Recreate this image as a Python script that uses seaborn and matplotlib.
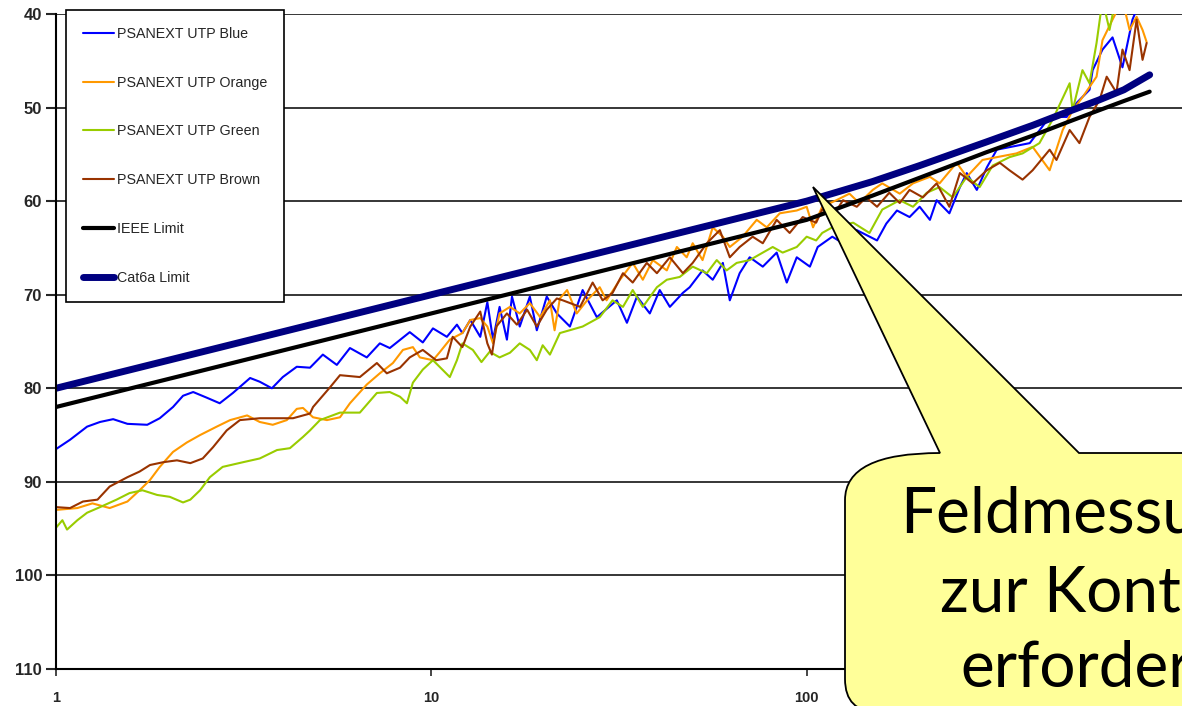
import matplotlib
matplotlib.use("Agg")
import matplotlib.pyplot as plt
from matplotlib.path import Path
from matplotlib.patches import PathPatch
from matplotlib.ticker import NullLocator
import pandas as pd
import seaborn as sns

# (frequency MHz, dB)
blue = [(1.0, 86.5), (1.09, 85.5), (1.21, 84.1), (1.31, 83.6), (1.42, 83.3), (1.55, 83.8),
        (1.75, 83.9), (1.89, 83.2), (2.05, 82.0), (2.18, 80.8), (2.32, 80.4), (2.52, 81.0),
        (2.73, 81.6), (2.96, 80.5), (3.29, 78.9), (3.49, 79.3), (3.76, 80.0), (4.02, 78.8),
        (4.38, 77.7), (4.75, 77.8), (5.14, 76.4), (5.60, 77.5), (6.07, 75.7), (6.73, 76.7),
        (7.29, 75.2), (7.75, 75.7), (8.76, 74.0), (9.49, 75.1), (10.1, 73.6), (11.0, 74.5),
        (11.7, 73.2), (12.1, 74.1), (12.7, 72.7), (13.5, 74.5), (14.1, 70.8), (14.6, 74.8),
        (15.2, 71.3), (15.9, 74.8), (16.4, 70.2), (17.2, 73.4), (18.3, 70.2), (19.1, 73.8),
        (20.3, 70.2), (21.6, 72.0), (23.4, 73.4), (25.3, 69.5), (27.6, 72.4), (31.2, 70.6),
        (33.2, 73.0), (35.3, 70.2), (38.2, 72.0), (40.6, 69.5), (43.2, 71.3), (46.8, 69.8),
        (48.8, 69.2), (52.8, 67.4), (56.2, 68.4), (59.8, 66.6), (62.4, 70.6), (66.3, 67.7),
        (70.5, 66.0), (76.4, 67.0), (83.2, 65.5), (88.5, 68.7), (94.1, 66.0), (102, 67.0),
        (107, 64.9), (117, 63.8), (125, 64.5), (136, 63.1), (154, 64.2), (163, 62.4),
        (174, 61.0), (188, 61.7), (200, 60.6), (213, 62.0), (222, 59.9), (240, 61.3),
        (256, 58.5), (267, 57.0), (284, 58.8), (302, 56.4), (321, 54.5), (393, 53.8),
        (444, 51.0), (493, 51.0), (524, 49.5), (567, 48.1), (578, 46.0), (614, 43.8),
        (653, 42.5), (694, 45.7), (738, 40.6), (785, 38.0)]

orange = [(1.0, 93.0), (1.14, 92.8), (1.25, 92.3), (1.39, 92.8), (1.55, 92.1), (1.67, 90.9),
          (1.78, 89.8), (1.89, 88.4), (2.05, 86.8), (2.23, 85.8), (2.42, 85.0), (2.68, 84.1),
          (2.91, 83.4), (3.23, 82.9), (3.49, 83.6), (3.78, 83.9), (4.12, 83.4), (4.38, 82.2),
          (4.55, 82.1), (4.84, 83.1), (5.27, 83.4), (5.71, 83.1), (6.07, 81.6), (6.73, 79.6),
          (7.29, 78.4), (7.90, 77.3), (8.40, 75.9), (8.93, 75.6), (9.32, 76.7), (10.1, 77.0),
          (10.5, 76.2), (11.2, 74.8), (12.1, 74.1), (12.7, 72.7), (13.5, 72.5), (14.1, 73.4),
          (14.6, 75.2), (15.2, 72.0), (16.2, 71.3), (17.2, 72.0), (18.3, 70.9), (19.5, 72.4),
          (20.7, 70.6), (21.3, 73.8), (22.0, 70.4), (23.0, 69.5), (24.4, 72.0), (26.0, 70.6),
          (28.1, 69.2), (29.3, 70.6), (31.8, 68.4), (34.4, 66.6), (36.6, 68.4), (38.9, 66.3),
          (42.4, 67.4), (45.1, 64.9), (47.9, 66.0), (49.7, 64.5), (52.8, 66.3), (56.2, 62.8),
          (59.8, 63.8), (62.4, 64.9), (67.5, 63.8), (73.6, 62.0), (78.3, 62.8), (84.8, 61.3),
          (94.1, 61.0), (100, 60.6), (104, 62.8), (110, 60.6), (120, 59.9), (130, 59.2),
          (138, 60.2), (150, 58.8), (159, 58.1), (177, 59.2), (192, 58.1), (213, 57.4),
          (226, 58.1), (251, 55.9), (267, 57.4), (294, 55.6), (321, 55.3), (362, 54.9),
          (400, 54.2), (444, 56.7), (481, 52.4), (511, 50.3), (543, 48.9), (592, 46.7),
          (614, 42.8), (653, 40.6), (694, 38.5), (725, 41.7), (757, 40.3), (785, 41.7),
          (805, 43.0)]

green = [(1.0, 94.9), (1.04, 94.1), (1.07, 95.1), (1.14, 94.1), (1.21, 93.3), (1.31, 92.7),
         (1.45, 91.9), (1.57, 91.2), (1.70, 90.9), (1.86, 91.4), (2.01, 91.6), (2.18, 92.2),
         (2.28, 91.9), (2.42, 90.9), (2.57, 89.5), (2.78, 88.4), (3.15, 87.9), (3.49, 87.5),
         (3.88, 86.6), (4.20, 86.4), (4.55, 85.2), (4.75, 84.5), (5.05, 83.4), (5.71, 82.6),
         (6.45, 82.6), (7.16, 80.5), (7.75, 80.4), (8.25, 80.9), (8.61, 81.6), (8.93, 79.4),
         (9.49, 78.0), (10.1, 77.0), (10.7, 78.0), (11.2, 78.8), (11.7, 77.0), (12.1, 75.2),
         (12.9, 75.9), (13.6, 77.2), (14.3, 76.1), (15.2, 76.7), (16.2, 76.2), (17.2, 75.2),
         (18.3, 75.9), (19.1, 77.0), (19.8, 75.4), (20.7, 76.4), (22.0, 74.1), (25.3, 73.4),
         (28.1, 72.4), (30.4, 70.6), (32.4, 71.3), (34.4, 69.5), (36.6, 71.3), (39.9, 69.2),
         (42.4, 68.4), (45.9, 68.1), (49.7, 67.0), (54.2, 67.7), (57.6, 66.3), (61.2, 67.4),
         (65.1, 66.6), (70.5, 66.3), (76.4, 65.5), (81.2, 64.9), (86.3, 65.5), (94.1, 64.9),
         (100, 63.8), (106, 64.2), (110, 63.4), (117, 62.8), (133, 62.3), (147, 63.4),
         (159, 60.9), (177, 59.9), (192, 60.6), (209, 59.1), (226, 58.5), (245, 59.6),
         (267, 57.4), (289, 58.5), (313, 56.2), (347, 55.3), (376, 54.9), (417, 53.8),
         (452, 51.3), (502, 47.4), (511, 50.3), (543, 46.0), (567, 47.4), (592, 43.1),
         (614, 38.5), (641, 41.7), (669, 38.0)]

brown = [(1.0, 92.7), (1.09, 92.8), (1.18, 92.1), (1.29, 91.9), (1.39, 90.5), (1.55, 89.5),
         (1.67, 88.9), (1.78, 88.2), (1.93, 87.9), (2.10, 87.7), (2.28, 88.0), (2.46, 87.5),
         (2.62, 86.3), (2.85, 84.5), (3.09, 83.4), (3.49, 83.2), (3.88, 83.2), (4.28, 83.2),
         (4.75, 82.7), (4.84, 82.0), (5.37, 79.9), (5.71, 78.6), (6.45, 78.8), (7.16, 77.3),
         (7.61, 78.4), (8.25, 77.8), (8.76, 76.7), (9.49, 75.9), (10.3, 77.0), (11.0, 76.8),
         (11.4, 74.5), (12.1, 75.6), (12.7, 73.4), (13.5, 71.8), (14.1, 75.2), (14.5, 76.4),
         (14.9, 73.4), (15.9, 72.0), (16.9, 73.2), (18.0, 71.6), (19.1, 73.4), (20.3, 71.6),
         (21.6, 70.4), (22.4, 70.6), (24.9, 71.3), (26.9, 68.7), (28.6, 70.6), (30.4, 69.8),
         (32.4, 67.7), (34.4, 68.7), (37.5, 66.6), (39.9, 67.7), (43.2, 66.0), (46.8, 67.7),
         (49.7, 66.6), (54.2, 64.5), (58.7, 63.1), (62.4, 66.0), (66.3, 64.9), (71.8, 63.8),
         (76.4, 64.5), (83.2, 62.0), (90.1, 63.4), (97.6, 61.7), (106, 62.3), (110, 60.9),
         (117, 61.7), (125, 59.9), (136, 60.6), (144, 59.6), (154, 60.6), (166, 59.1),
         (177, 60.2), (188, 58.8), (204, 59.6), (222, 58.1), (240, 60.6), (256, 57.0),
         (277, 58.1), (302, 56.7), (327, 55.9), (347, 56.7), (376, 57.7), (400, 56.7),
         (444, 54.5), (463, 55.6), (502, 52.4), (533, 53.8), (567, 51.0), (603, 49.2),
         (630, 46.7), (669, 48.4), (694, 43.8), (725, 46.0), (757, 40.6), (785, 44.9),
         (805, 43.1)]

ieee_limit = [(1, 82.0), (10, 72.0), (100, 62.0), (150, 59.4), (200, 57.5), (300, 54.8),
              (400, 53.0), (500, 51.5), (600, 50.3), (700, 49.3), (820, 48.3)]
cat6a_limit = [(1, 80.0), (10, 70.0), (100, 60.0), (150, 57.9), (200, 56.2), (300, 53.7),
               (400, 51.9), (500, 50.4), (600, 49.2), (700, 48.1), (820, 46.5)]

series_names = ["PSANEXT UTP Blue", "PSANEXT UTP Orange", "PSANEXT UTP Green",
                "PSANEXT UTP Brown", "IEEE Limit", "Cat6a Limit"]
series_data = [blue, orange, green, brown, ieee_limit, cat6a_limit]
series_colors = ["#0000ff", "#ff9900", "#99cc00", "#993300", "#000000", "#000080"]
series_widths = [1.5, 1.5, 1.5, 1.5, 3.0, 5.0]

y_ticks = [40, 50, 60, 70, 80, 90, 100, 110]
x_ticks = [1, 10, 100]
callout_lines = ["Feldmessungen", "zur Kontrolle", "erforderlich"]

sns.set_style("white")
plt.rcParams['font.family'] = ['Liberation Sans', 'DejaVu Sans']

W, H = 1182, 706
fig = plt.figure(figsize=(W / 100, H / 100), dpi=100)
ax = fig.add_axes([56 / W, 1 - 669 / H, 1 - 56 / W, (669 - 14) / H])

for name, pts, col, lw in zip(series_names, series_data, series_colors, series_widths):
    df = pd.DataFrame(pts, columns=["freq", "db"])
    sns.lineplot(data=df, x="freq", y="db", color=col, lw=lw, label=name,
                 estimator=None, sort=False, ax=ax, solid_capstyle="round")

ax.set_xscale("log")
ax.set_xlim(1, 1000)
ax.set_ylim(110, 40)
ax.set_xlabel("")
ax.set_ylabel("")
ax.set_yticks(y_ticks)
ax.set_yticklabels([str(v) for v in y_ticks], fontweight="bold")
ax.set_xticks(x_ticks)
ax.set_xticklabels([str(v) for v in x_ticks], fontweight="bold")
ax.xaxis.set_minor_locator(NullLocator())
ax.yaxis.grid(True, color="black", lw=1.1)
ax.xaxis.grid(False)
ax.tick_params(axis="y", direction="out", length=7, width=1.5, labelsize=12, pad=3, left=True)
ax.tick_params(axis="x", direction="out", length=5, width=1.2, labelsize=10.5, pad=11, bottom=True)
for s in ["top", "right"]:
    ax.spines[s].set_visible(False)
for s in ["left", "bottom"]:
    ax.spines[s].set_color("black")
    ax.spines[s].set_linewidth(1.5)

leg = ax.legend(loc="upper left", bbox_to_anchor=(66 / W, 1 - 10 / H),
                bbox_transform=fig.transFigure, borderaxespad=0, frameon=True,
                fancybox=False, framealpha=1, edgecolor="black", fontsize=10.3,
                handlelength=2.2, handletextpad=0.2, labelspacing=2.43, borderpad=1.18)
leg.get_frame().set_linewidth(1.2)

# speech-bubble callout, drawn in figure pixel space
ov = fig.add_axes([0, 0, 1, 1])
ov.set_xlim(0, W)
ov.set_ylim(H, 0)
ov.axis("off")
ov.set_zorder(5)
verts = [(940, 453), (813, 187), (1079, 453), (1200, 453), (1200, 712), (878, 712),
         (845, 712), (845, 679), (845, 500), (845, 453), (940, 453), (940, 453)]
codes = [Path.MOVETO, Path.LINETO, Path.LINETO, Path.LINETO, Path.LINETO, Path.LINETO,
         Path.CURVE3, Path.CURVE3, Path.LINETO, Path.CURVE3, Path.CURVE3, Path.CLOSEPOLY]
ov.add_patch(PathPatch(Path(verts, codes), facecolor="#ffff99", edgecolor="black", lw=1.3))
for txt, x0, y0 in zip(callout_lines, [900, 940, 960], [533, 612, 687]):
    ov.text(x0, y0, txt, fontsize=46, family=["Lato", "DejaVu Sans"], ha="left", va="baseline",
            color="black")

fig.savefig("out.png", dpi=100)
